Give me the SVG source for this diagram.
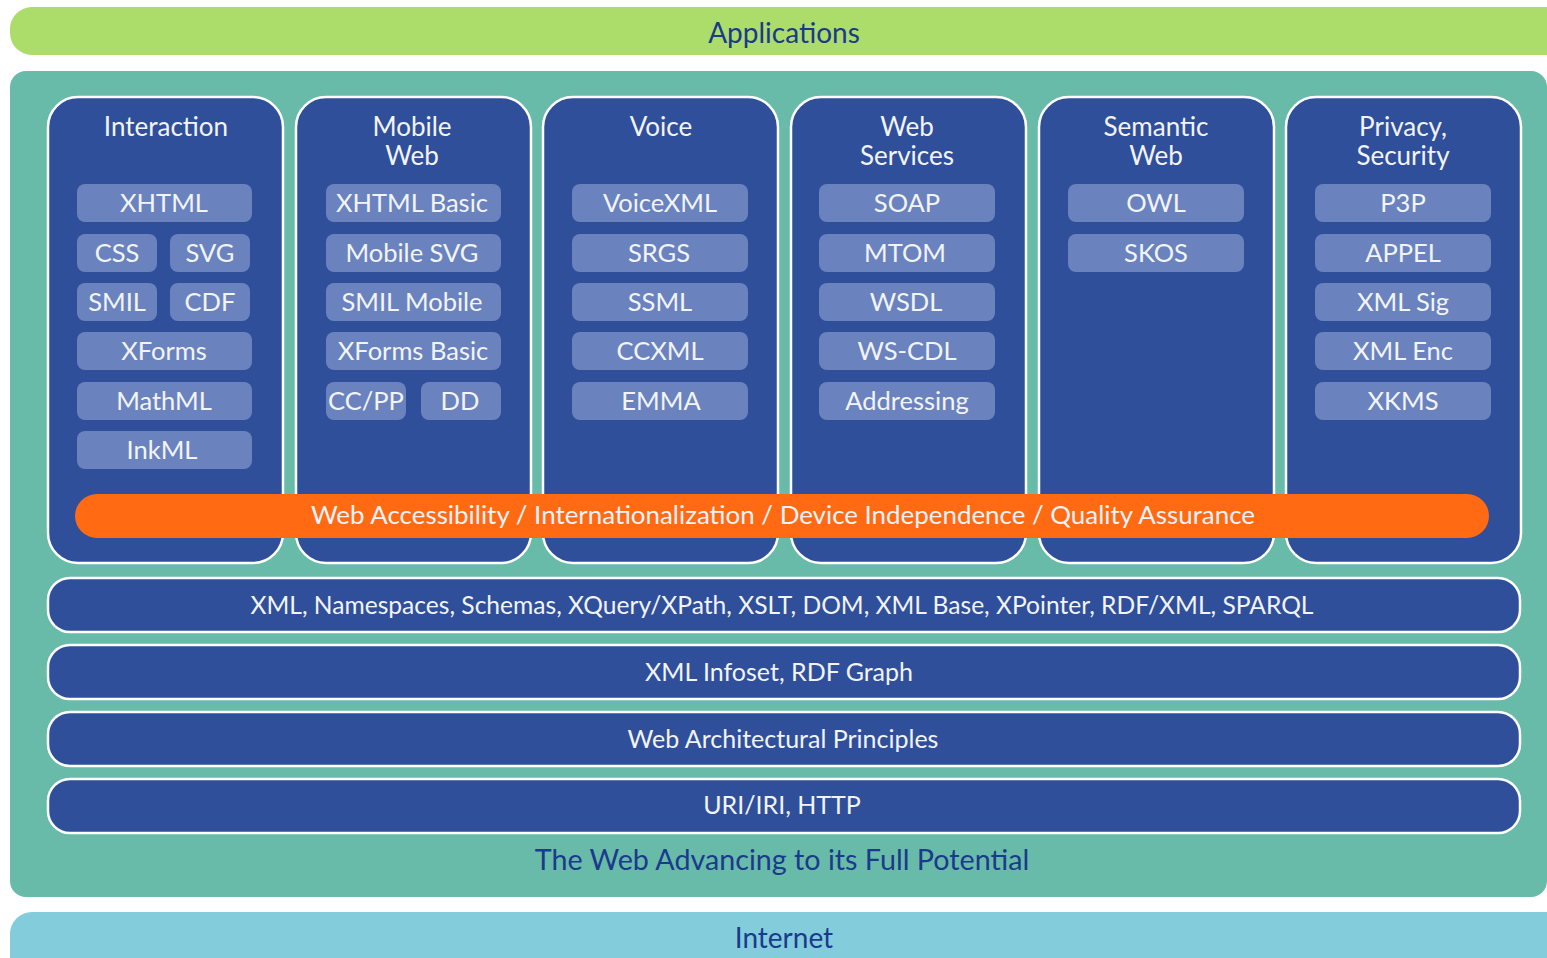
<svg xmlns="http://www.w3.org/2000/svg" width="1547" height="958" viewBox="0 0 1547 958">
  <style>
    text { font-family: Lato, "Open Sans", "Liberation Sans", sans-serif; text-anchor: middle; }
    .col { fill: #2f4f9a; stroke: #ffffff; stroke-width: 2.5; }
    .band { fill: #2f4f9a; stroke: #ffffff; stroke-width: 2.5; }
    .item { fill: #6a83be; }
    .hdr { fill: #f2f4fa; font-size: 26px; }
    .lbl { fill: #f2f4fa; font-size: 25.5px; }
    .bandtxt { fill: #f2f4fa; font-size: 25px; }
    .dark { fill: #1a3a8c; font-size: 28px; }
  </style>

  <rect width="1547" height="958" fill="#ffffff"/>

  <!-- top and bottom bands -->
  <g id="applications">
    <rect x="10" y="7" width="1570" height="48" rx="22" fill="#acdc6a"/>
    <text class="dark" x="784" y="43">Applications</text>
  </g>
  <g id="internet">
    <rect x="10" y="912" width="1570" height="80" rx="22" fill="#83ccdb"/>
    <text class="dark" x="784" y="948">Internet</text>
  </g>

  <!-- teal platform -->
  <g id="platform">
    <rect x="10" y="71" width="1537" height="826" rx="16" fill="#68bba9"/>
    <text class="dark" x="782" y="870" style="font-size:28.7px">The Web Advancing to its Full Potential</text>
  </g>

  <!-- vertical columns -->
  <g id="col-interaction">
    <rect class="col" x="48" y="97" width="235" height="466" rx="30"/>
    <text class="hdr" x="166" y="136">Interaction</text>
    <rect class="item" x="77" y="184" width="175" height="38" rx="8"/><text class="lbl" x="164" y="212">XHTML</text>
    <rect class="item" x="77" y="234" width="80" height="38" rx="8"/><text class="lbl" x="117" y="262">CSS</text>
    <rect class="item" x="170" y="234" width="80" height="38" rx="8"/><text class="lbl" x="210" y="262">SVG</text>
    <rect class="item" x="77" y="283" width="80" height="38" rx="8"/><text class="lbl" x="117" y="311">SMIL</text>
    <rect class="item" x="170" y="283" width="80" height="38" rx="8"/><text class="lbl" x="210" y="311">CDF</text>
    <rect class="item" x="77" y="332" width="175" height="38" rx="8"/><text class="lbl" x="164" y="360">XForms</text>
    <rect class="item" x="77" y="382" width="175" height="38" rx="8"/><text class="lbl" x="164" y="410">MathML</text>
    <rect class="item" x="77" y="431" width="175" height="38" rx="8"/><text class="lbl" x="162" y="459">InkML</text>
  </g>

  <g id="col-mobile">
    <rect class="col" x="296" y="97" width="235" height="466" rx="30"/>
    <text class="hdr" x="412" y="136">Mobile</text>
    <text class="hdr" x="412" y="165">Web</text>
    <rect class="item" x="326" y="184" width="175" height="38" rx="8"/><text class="lbl" x="412" y="212">XHTML Basic</text>
    <rect class="item" x="326" y="234" width="175" height="38" rx="8"/><text class="lbl" x="412" y="262">Mobile SVG</text>
    <rect class="item" x="326" y="283" width="175" height="38" rx="8"/><text class="lbl" x="412" y="311">SMIL Mobile</text>
    <rect class="item" x="326" y="332" width="175" height="38" rx="8"/><text class="lbl" x="413" y="360">XForms Basic</text>
    <rect class="item" x="326" y="382" width="80" height="38" rx="8"/><text class="lbl" x="366" y="410">CC/PP</text>
    <rect class="item" x="421" y="382" width="80" height="38" rx="8"/><text class="lbl" x="460" y="410">DD</text>
  </g>

  <g id="col-voice">
    <rect class="col" x="543" y="97" width="235" height="466" rx="30"/>
    <text class="hdr" x="661" y="136">Voice</text>
    <rect class="item" x="572" y="184" width="176" height="38" rx="8"/><text class="lbl" x="660" y="212">VoiceXML</text>
    <rect class="item" x="572" y="234" width="176" height="38" rx="8"/><text class="lbl" x="659" y="262">SRGS</text>
    <rect class="item" x="572" y="283" width="176" height="38" rx="8"/><text class="lbl" x="660" y="311">SSML</text>
    <rect class="item" x="572" y="332" width="176" height="38" rx="8"/><text class="lbl" x="660" y="360">CCXML</text>
    <rect class="item" x="572" y="382" width="176" height="38" rx="8"/><text class="lbl" x="661" y="410">EMMA</text>
  </g>

  <g id="col-webservices">
    <rect class="col" x="791" y="97" width="235" height="466" rx="30"/>
    <text class="hdr" x="907" y="136">Web</text>
    <text class="hdr" x="907" y="165">Services</text>
    <rect class="item" x="819" y="184" width="176" height="38" rx="8"/><text class="lbl" x="907" y="212">SOAP</text>
    <rect class="item" x="819" y="234" width="176" height="38" rx="8"/><text class="lbl" x="905" y="262">MTOM</text>
    <rect class="item" x="819" y="283" width="176" height="38" rx="8"/><text class="lbl" x="906" y="311">WSDL</text>
    <rect class="item" x="819" y="332" width="176" height="38" rx="8"/><text class="lbl" x="907" y="360">WS-CDL</text>
    <rect class="item" x="819" y="382" width="176" height="38" rx="8"/><text class="lbl" x="907" y="410">Addressing</text>
  </g>

  <g id="col-semantic">
    <rect class="col" x="1039" y="97" width="235" height="466" rx="30"/>
    <text class="hdr" x="1156" y="136">Semantic</text>
    <text class="hdr" x="1156" y="165">Web</text>
    <rect class="item" x="1068" y="184" width="176" height="38" rx="8"/><text class="lbl" x="1156" y="212">OWL</text>
    <rect class="item" x="1068" y="234" width="176" height="38" rx="8"/><text class="lbl" x="1156" y="262">SKOS</text>
  </g>

  <g id="col-privacy">
    <rect class="col" x="1286" y="97" width="235" height="466" rx="30"/>
    <text class="hdr" x="1403" y="136">Privacy,</text>
    <text class="hdr" x="1403" y="165">Security</text>
    <rect class="item" x="1315" y="184" width="176" height="38" rx="8"/><text class="lbl" x="1403" y="212">P3P</text>
    <rect class="item" x="1315" y="234" width="176" height="38" rx="8"/><text class="lbl" x="1403" y="262">APPEL</text>
    <rect class="item" x="1315" y="283" width="176" height="38" rx="8"/><text class="lbl" x="1403" y="311">XML Sig</text>
    <rect class="item" x="1315" y="332" width="176" height="38" rx="8"/><text class="lbl" x="1403" y="360">XML Enc</text>
    <rect class="item" x="1315" y="382" width="176" height="38" rx="8"/><text class="lbl" x="1403" y="410">XKMS</text>
  </g>

  <!-- cross-cutting orange band -->
  <g id="accessibility">
    <rect x="75" y="494" width="1414" height="44" rx="22" fill="#ff6a13"/>
    <text class="lbl" x="783" y="524" textLength="944" lengthAdjust="spacingAndGlyphs">Web Accessibility / Internationalization / Device Independence / Quality Assurance</text>
  </g>

  <!-- horizontal foundation layers -->
  <g id="layer-xml">
    <rect class="band" x="48" y="578" width="1472" height="54" rx="22"/>
    <text class="bandtxt" x="782" y="614" textLength="1063" lengthAdjust="spacingAndGlyphs">XML, Namespaces, Schemas, XQuery/XPath, XSLT, DOM, XML Base, XPointer, RDF/XML, SPARQL</text>
  </g>
  <g id="layer-infoset">
    <rect class="band" x="48" y="645" width="1472" height="54" rx="22"/>
    <text class="bandtxt" x="779" y="681">XML Infoset, RDF Graph</text>
  </g>
  <g id="layer-principles">
    <rect class="band" x="48" y="712" width="1472" height="54" rx="22"/>
    <text class="bandtxt" x="783" y="748">Web Architectural Principles</text>
  </g>
  <g id="layer-uri">
    <rect class="band" x="48" y="779" width="1472" height="54" rx="22"/>
    <text class="bandtxt" x="782" y="814">URI/IRI, HTTP</text>
  </g>
</svg>
